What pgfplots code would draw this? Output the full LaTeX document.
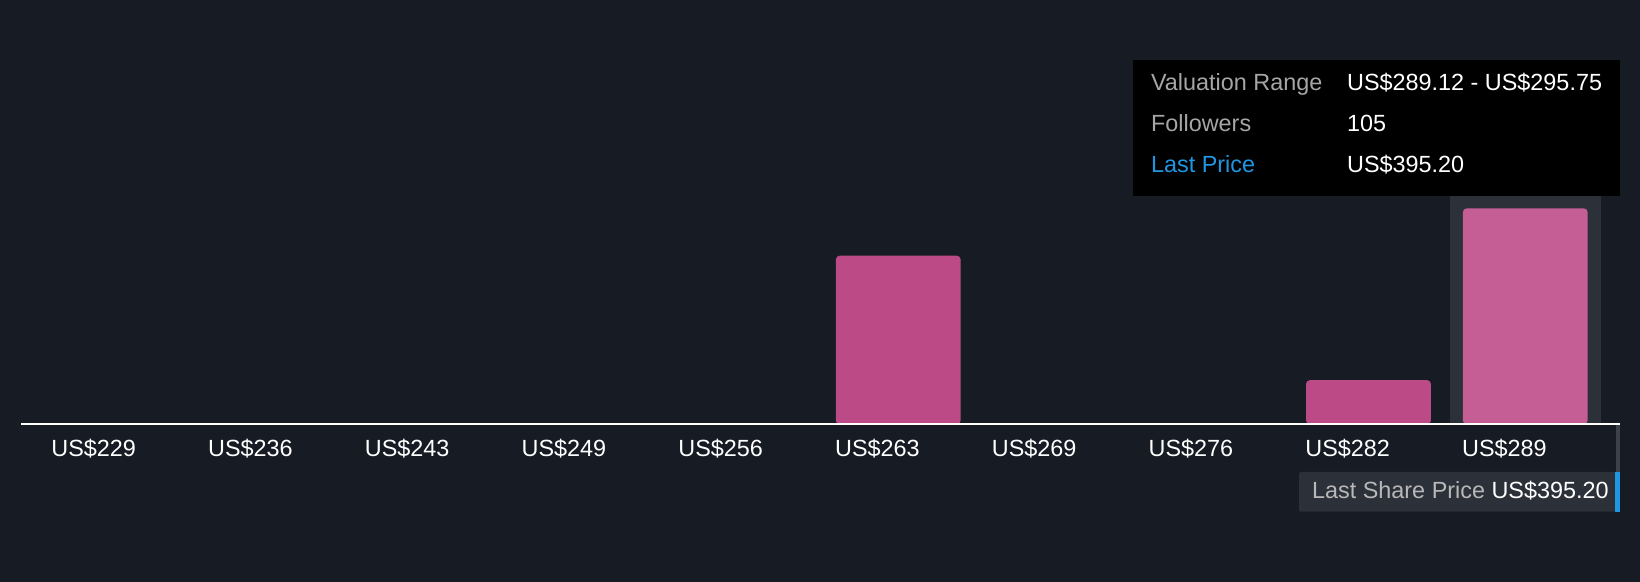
\documentclass[border=0pt]{standalone}
\usepackage{pgfplots}
\pgfplotsset{compat=1.18}
\usepackage{fontspec}
\setmainfont{Liberation Sans}
\definecolor{bgc}{RGB}{22,27,36}
\definecolor{barc}{RGB}{188,74,135}
\definecolor{barhl}{RGB}{196,94,148}
\definecolor{hlrect}{RGB}{44,48,57}
\definecolor{lblgrey}{RGB}{166,166,166}
\definecolor{blu}{RGB}{33,150,224}
\definecolor{vline}{RGB}{61,65,73}
\begin{document}
\begin{tikzpicture}[x=1pt,y=1pt]
\fill[bgc] (0,0) rectangle (820,291);
\begin{axis}[
  at={(10.5pt,78.85pt)}, anchor=south west,
  scale only axis, width=799.5pt, height=212.15pt,
  xmin=-0.5965, xmax=9.6045, ymin=0, ymax=206.3,
  axis x line*=bottom, axis y line=none,
  x axis line style={white, line width=1pt, -},
  axis on top=true,
  xtick={0,...,9},
  xticklabels={US\$229,US\$236,US\$243,US\$249,US\$256,US\$263,US\$269,US\$276,US\$282,US\$289},
  major tick length=0pt,
  xticklabel style={font=\fontsize{11.7}{14}\selectfont, text=white, anchor=base west, inner sep=0pt, xshift=-31.75pt, yshift=-16.1pt},
  ytick=\empty,
  clip=false,
]
\addplot[ybar, bar shift=0pt, bar width=0.963, fill=hlrect, draw=none] coordinates {(9,111.1)};
\addplot[ybar, bar shift=0pt, bar width=0.797, fill=barc, draw=none, rounded corners=2pt] coordinates {(5,82) (8,21.5)};
\addplot[ybar, bar shift=0pt, bar width=0.797, fill=barhl, draw=none, rounded corners=2pt] coordinates {(9,105)};
\end{axis}
% tooltip
\fill[black] (566.35,193.15) rectangle (810,261);
\begin{scope}[every node/.style={inner sep=0pt, anchor=base west, font=\fontsize{11.7}{14}\selectfont}]
\node[text=lblgrey] at (575.35,245.5) {Valuation Range};
\node[text=white] at (673.35,245.5) {US\$289.12 - US\$295.75};
\node[text=lblgrey] at (575.35,225.15) {Followers};
\node[text=white] at (673.35,225.15) {105};
\node[text=blu] at (575.35,204.8) {Last Price};
\node[text=white] at (673.35,204.8) {US\$395.20};
\end{scope}
% last share price marker
\fill[vline] (808,55) rectangle (810,78.35);
\fill[hlrect, rounded corners=1pt] (649.5,35.15) rectangle (808,55);
\fill[blu] (807.5,35.15) rectangle (810,55);
\node[inner sep=0pt, anchor=base west, text=lblgrey!80!white, font=\fontsize{11.7}{14}\selectfont] at (655.85,41.5) {Last Share Price};
\node[inner sep=0pt, anchor=base east, text=white, font=\fontsize{11.7}{14}\selectfont] at (804.5,41.5) {US\$395.20};
\pgfresetboundingbox
\useasboundingbox (0,0) rectangle (820,291);
\end{tikzpicture}
\end{document}
